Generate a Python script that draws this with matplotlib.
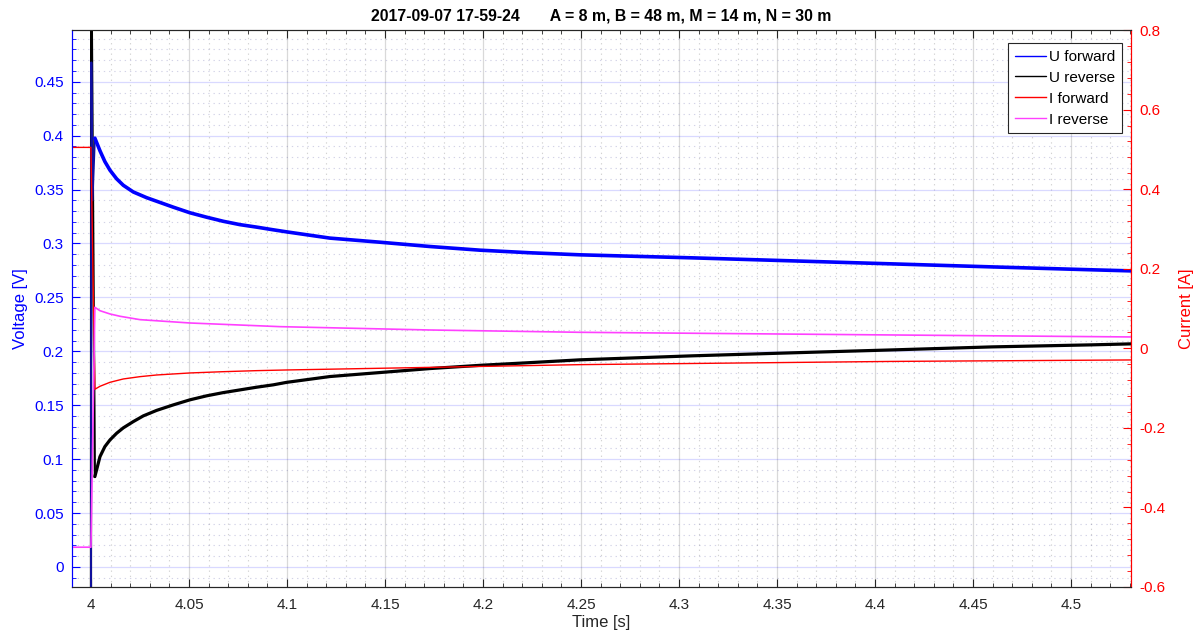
import matplotlib
matplotlib.use("Agg")
import matplotlib.pyplot as plt
from matplotlib.ticker import MultipleLocator, FixedLocator

plt.rcParams['font.family'] = ['Liberation Sans', 'DejaVu Sans']

# ---- data ----
t_ufwd = [4.0, 4.0002, 4.0008, 4.0020, 4.0046, 4.0071, 4.0097, 4.0131, 4.0165, 4.0216,
          4.0284, 4.0335, 4.0420, 4.0505, 4.0590, 4.0675, 4.0760, 4.0845, 4.0930, 4.0998,
          4.1219, 4.1474, 4.1730, 4.1985, 4.2240, 4.2495, 4.3066, 4.3577, 4.4087, 4.4597,
          4.5107, 4.5306]
u_fwd = [-0.05, 0.468, 0.34, 0.3977, 0.3860, 0.3760, 0.3680, 0.3600, 0.3540, 0.3478,
         0.3425, 0.3392, 0.3337, 0.3285, 0.3244, 0.3206, 0.3175, 0.3152, 0.3127, 0.3108,
         0.3050, 0.3012, 0.2972, 0.2938, 0.2914, 0.2895, 0.2867, 0.2839, 0.2811, 0.2783,
         0.2756, 0.2746]

t_urev = [4.0, 4.0001, 4.0020, 4.0046, 4.0071, 4.0097, 4.0131, 4.0165, 4.0216, 4.0267,
          4.0335, 4.0420, 4.0505, 4.0590, 4.0675, 4.0760, 4.0845, 4.0930, 4.0998, 4.1219,
          4.1474, 4.1730, 4.1985, 4.2240, 4.2495, 4.3066, 4.3577, 4.4087, 4.4597, 4.5107,
          4.5306]
u_rev = [-0.05, 0.6, 0.0838, 0.1023, 0.1116, 0.1178, 0.1240, 0.1290, 0.1348, 0.1401,
         0.1452, 0.1503, 0.1550, 0.1587, 0.1617, 0.1642, 0.1667, 0.1689, 0.1712, 0.1766,
         0.1803, 0.1840, 0.1870, 0.1895, 0.1921, 0.1958, 0.1986, 0.2013, 0.2041, 0.2060,
         0.2069]

t_ifwd = [3.99, 4.0, 4.0020, 4.0046, 4.0097, 4.0165, 4.0250, 4.0335, 4.0505, 4.0675,
          4.0845, 4.0998, 4.2495, 4.4087, 4.5306]
i_fwd = [0.505, 0.505, -0.103, -0.0955, -0.0855, -0.0771, -0.0713, -0.0671, -0.0620, -0.0588,
         -0.0562, -0.0545, -0.0411, -0.0330, -0.0293]

t_irev = [3.99, 4.0, 4.0020, 4.0046, 4.0097, 4.0148, 4.0250, 4.0505, 4.0964, 4.1730,
          4.2495, 4.4087, 4.5306]
i_rev = [-0.5, -0.5, 0.103, 0.0945, 0.0863, 0.0805, 0.0720, 0.0636, 0.0544, 0.0460,
         0.0402, 0.0335, 0.0285]

xticks = [4.0, 4.05, 4.1, 4.15, 4.2, 4.25, 4.3, 4.35, 4.4, 4.45, 4.5]
xticklabels = ['4', '4.05', '4.1', '4.15', '4.2', '4.25', '4.3', '4.35', '4.4', '4.45', '4.5']
yticks_v = [0, 0.05, 0.1, 0.15, 0.2, 0.25, 0.3, 0.35, 0.4, 0.45]
yticklabels_v = ['0', '0.05', '0.1', '0.15', '0.2', '0.25', '0.3', '0.35', '0.4', '0.45']
yticks_a = [-0.6, -0.4, -0.2, 0, 0.2, 0.4, 0.6, 0.8]
yticklabels_a = ['-0.6', '-0.4', '-0.2', '0', '0.2', '0.4', '0.6', '0.8']
title = "2017-09-07 17-59-24       A = 8 m, B = 48 m, M = 14 m, N = 30 m"

BLUE = '#0000ff'
RED = '#ff0000'
MAG = '#ff40ff'
DARK = '#262626'

fig = plt.figure(figsize=(11.99, 6.39), dpi=100)
ax = fig.add_axes([0.060, 0.0814, 0.8833, 0.8716])
ax2 = ax.twinx()

# switching spikes drawn thin, decay curves drawn as a wider band (noisy trace)
ax.plot(t_urev[:3], u_rev[:3], color='black', lw=1.6)
ax.plot(t_ufwd[:4], u_fwd[:4], color='#1010a0', lw=1.4)
l1, = ax.plot(t_ufwd[3:], u_fwd[3:], color=BLUE, lw=2.6, solid_joinstyle='round',
              solid_capstyle='round', label='U forward')
l2, = ax.plot(t_urev[2:], u_rev[2:], color='black', lw=2.3, solid_joinstyle='round',
              solid_capstyle='round', label='U reverse')
l3, = ax2.plot(t_ifwd, i_fwd, color=RED, lw=1.0, label='I forward')
l4, = ax2.plot(t_irev, i_rev, color=MAG, lw=1.2, label='I reverse')

ax.set_xlim(3.9903, 4.5306)
ax.set_ylim(-0.0186, 0.498)
ax2.set_ylim(-0.6, 0.8)

ax.xaxis.set_major_locator(FixedLocator(xticks))
ax.set_xticklabels(xticklabels)
ax.xaxis.set_minor_locator(MultipleLocator(0.01))
ax.yaxis.set_major_locator(FixedLocator(yticks_v))
ax.set_yticklabels(yticklabels_v)
ax.yaxis.set_minor_locator(MultipleLocator(0.01))
ax2.yaxis.set_major_locator(FixedLocator(yticks_a))
ax2.set_yticklabels(yticklabels_a)
ax2.yaxis.set_minor_locator(MultipleLocator(0.04))

# grids
ax.set_axisbelow(True)
ax.grid(True, axis='y', which='major', color=BLUE, alpha=0.15, lw=0.9, ls='-')
ax.grid(True, axis='x', which='major', color='black', alpha=0.15, lw=0.9, ls='-')
ax.grid(True, axis='y', which='minor', color='#5050a0', alpha=0.25, lw=0.8, ls=(0, (1.2, 3.5)))
ax.grid(True, axis='x', which='minor', color='#505050', alpha=0.25, lw=0.8, ls=(0, (1.2, 3.5)))

# ticks
ax.tick_params(axis='x', which='both', direction='in', top=True, bottom=True,
               colors=DARK, labelsize=11, pad=8)
ax.tick_params(axis='x', which='major', length=6)
ax.tick_params(axis='x', which='minor', length=3)
ax.tick_params(axis='y', which='both', direction='in', colors=BLUE, labelsize=11, pad=6)
ax.tick_params(axis='y', which='major', length=6)
ax.tick_params(axis='y', which='minor', length=3)
ax2.tick_params(axis='y', which='both', direction='in', colors=RED, labelsize=11, pad=6)
ax2.tick_params(axis='y', which='major', length=6)
ax2.tick_params(axis='y', which='minor', length=3)

for a in (ax, ax2):
    a.spines['top'].set_color(DARK)
    a.spines['bottom'].set_color(DARK)
    a.spines['left'].set_color(BLUE)
    a.spines['right'].set_color(RED)

ax.set_xlabel('Time [s]', color=DARK, fontsize=12, labelpad=2)
ax.set_ylabel('Voltage [V]', color=BLUE, fontsize=12, labelpad=4)
ax2.set_ylabel('Current [A]', color=RED, fontsize=12, labelpad=10)
ax.set_title(title, fontsize=11.4, fontweight='bold', color='black', pad=7)

leg = ax2.legend(handles=[l1, l2, l3, l4], loc='upper right', bbox_to_anchor=(0.9915, 0.9767),
                 fontsize=11, frameon=True, fancybox=False, handlelength=2.05,
                 handletextpad=0.2, labelspacing=0.45, borderpad=0.45, borderaxespad=0.0)
leg.get_frame().set_edgecolor(DARK)
leg.get_frame().set_linewidth(0.8)
leg.get_frame().set_alpha(1.0)
for h in leg.get_lines():
    h.set_linewidth(1.0)

fig.savefig('out.png', dpi=100)
